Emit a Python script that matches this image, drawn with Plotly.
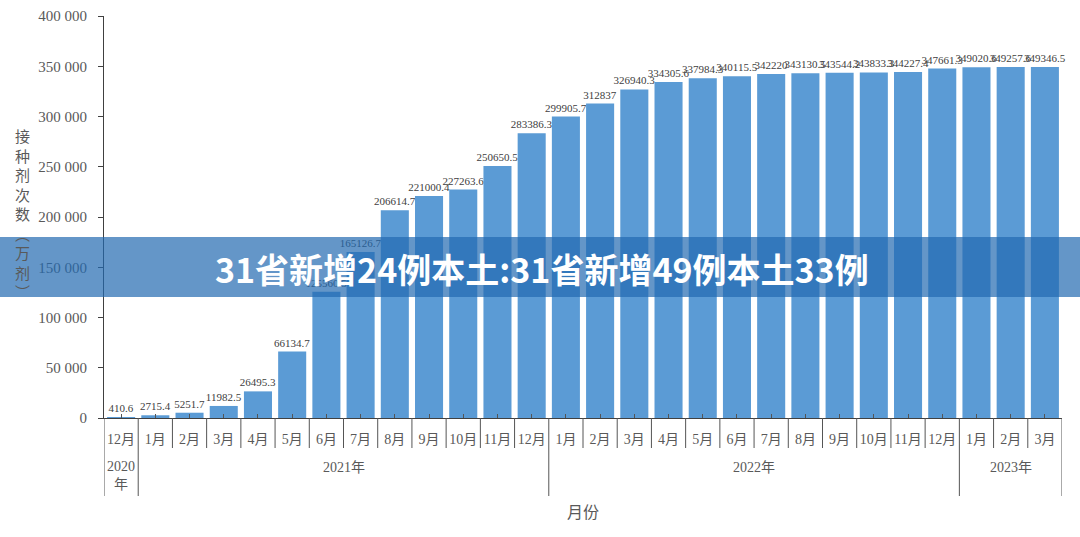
import plotly.graph_objects as go

years = ["2020<br>年"] + ["2021年"] * 12 + ["2022年"] * 12 + ["2023年"] * 3
months = (["12月"] + [f"{m}月" for m in range(1, 13)] + [f"{m}月" for m in range(1, 13)]
          + ["1月", "2月", "3月"])
doses = [410.6,
         2715.4, 5251.7, 11982.5, 26495.3, 66134.7, 125560.5, 165126.7, 206614.7,
         221000.4, 227263.6, 250650.5, 283386.3,
         299905.7, 312837, 326940.3, 334305.6, 337984.3, 340115.5, 342220, 343130.5,
         343544.2, 343833.3, 344227.4, 347661.3,
         349020.6, 349257.6, 349346.5]
y_ticks = [0, 50000, 100000, 150000, 200000, 250000, 300000, 350000, 400000]
y_title_chars = ["接", "种", "剂", "次", "数", "︵", "万", "剂", "︶"]
x_title = "月份"
banner_text = "31省新增24例本土:31省新增49例本土33例"


def fmt(v):
    s = "%.1f" % v
    return s[:-2] if s.endswith(".0") else s


labels = [fmt(v) for v in doses]
n = len(doses)
idx = list(range(n))

serif = "Liberation Serif, Noto Sans CJK SC, serif"
gray = "#595959"
axis_col = "#555555"

W, H = 1080, 537
L, R, T, B = 104, 18, 16, 119
pw, ph = W - L - R, H - T - B


def py(pix):
    """pixel row -> paper y"""
    return (H - B - pix) / ph


fig = go.Figure()
fig.add_trace(go.Bar(
    x=idx, y=doses,
    marker=dict(color="#5b9bd5", line=dict(width=0)),
    text=labels, textposition="outside", constraintext="none",
    textfont=dict(family=serif, size=11, color="#404040"),
    cliponaxis=False,
))

fig.update_layout(
    width=W, height=H,
    margin=dict(l=L, r=R, t=T, b=B, pad=0, autoexpand=False),
    paper_bgcolor="white", plot_bgcolor="white",
    bargap=0.18, showlegend=False,
    separators=". ",
    font=dict(family=serif, color=gray, size=14),
    xaxis=dict(
        range=[-0.5, n - 0.5], tickvals=idx, ticktext=months,
        showline=True, linecolor="#404040", linewidth=1,
        ticks="inside", ticklen=4, tickcolor=axis_col, tickwidth=1,
        tickangle=0, ticklabelstandoff=8, automargin=False,
        tickfont=dict(family=serif, size=14, color=gray),
        showgrid=False, zeroline=False,
    ),
    yaxis=dict(
        range=[0, 400000], tickvals=y_ticks, tickformat=",d",
        showline=True, linecolor="#404040", linewidth=1,
        ticks="outside", ticklen=5, tickcolor="#404040",
        ticklabelstandoff=8, automargin=False,
        tickfont=dict(family=serif, size=15, color=gray),
        showgrid=False, zeroline=False,
    ),
)

# month separators and year dividers
year_bounds = [0] + [i for i in range(1, n) if years[i] != years[i - 1]] + [n]
for i in range(n + 1):
    long = i in year_bounds
    fig.add_shape(type="line", xref="x", yref="paper",
                  x0=i - 0.5, x1=i - 0.5, y0=0, y1=py(496 if long else 448),
                  line=dict(color=axis_col, width=1))

# year labels
for a, b in zip(year_bounds[:-1], year_bounds[1:]):
    two_line = "<br>" in years[a]
    fig.add_annotation(
        text=years[a], xref="x", yref="paper",
        x=(a + b - 1) / 2, y=py(476 if two_line else 467),
        xanchor="center", yanchor="middle", showarrow=False,
        font=dict(family=serif, size=14, color=gray),
    )

fig.add_annotation(
    text=x_title, xref="paper", yref="paper", x=0.5, y=py(511),
    xanchor="center", yanchor="middle", showarrow=False,
    font=dict(family="Noto Sans CJK SC", size=16, color=gray),
)

fig.add_annotation(
    text="<br>".join(y_title_chars), xref="paper", yref="paper",
    x=(22 - L) / pw, y=py(213), xanchor="center", yanchor="middle",
    showarrow=False, font=dict(family="Noto Sans CJK SC", size=15, color=gray),
)

# overlay banner
fig.add_shape(type="rect", xref="paper", yref="paper",
              x0=-L / pw, x1=(W - L) / pw, y0=py(297), y1=py(237),
              fillcolor="rgba(34,105,176,0.7)", line=dict(width=0), layer="above")
fig.add_annotation(
    text="<b>" + banner_text + "</b>", xref="paper", yref="paper",
    x=(542 - L) / pw, y=py(268), xanchor="center", yanchor="middle",
    showarrow=False, font=dict(family="Noto Sans CJK SC", size=34, color="white"),
)

fig.write_html("out.html")
